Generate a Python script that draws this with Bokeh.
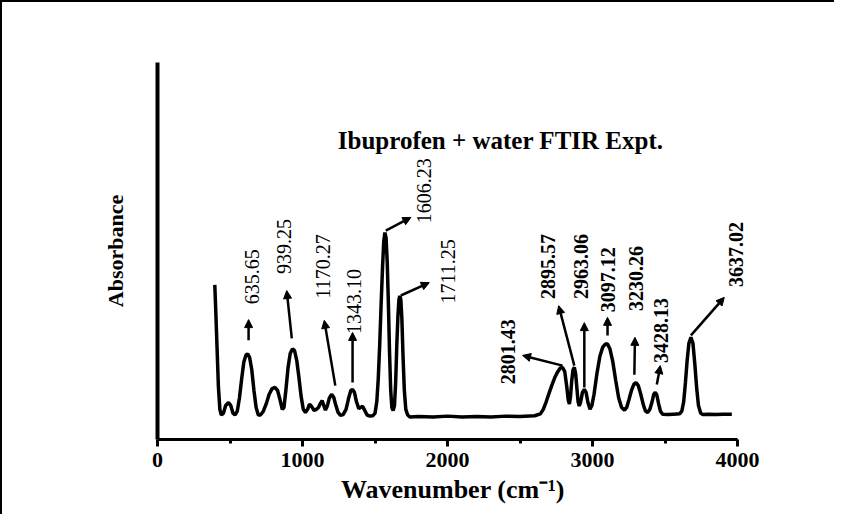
from bokeh.plotting import figure
from bokeh.models import Range1d, FixedTicker, Arrow, NormalHead, ColumnDataSource, Label
from bokeh.embed import file_html
from bokeh.resources import INLINE
import math

# Spectrum (wavenumber, absorbance in arbitrary units)
wavenumber = [395, 400, 410, 420, 430, 440, 455, 470, 490, 505, 520, 535, 550, 565, 580, 595, 610, 622, 635, 650,
              665, 680, 695, 710, 730, 750, 770, 790, 810, 828, 845, 860, 872, 885, 900, 915, 930, 945, 960, 975,
              990, 1005, 1020, 1035, 1048, 1062, 1080, 1095, 1110, 1122, 1135, 1147, 1158, 1170, 1185, 1200, 1215,
              1230, 1245, 1262, 1280, 1300, 1318, 1333, 1345, 1358, 1372, 1388, 1400, 1414, 1428, 1445, 1465, 1485,
              1500, 1512, 1522, 1532, 1542, 1552, 1560, 1568, 1576, 1584, 1592, 1600, 1608, 1616, 1625, 1634, 1642,
              1650, 1658, 1665, 1671, 1678, 1685, 1693, 1702, 1712, 1725, 1740, 1800, 1900, 2000, 2100, 2200, 2300,
              2400, 2500, 2600, 2640, 2660, 2680, 2700, 2720, 2740, 2760, 2778, 2793, 2808, 2822, 2832, 2840, 2848,
              2856, 2865, 2874, 2883, 2892, 2900, 2908, 2918, 2930, 2943, 2955, 2968, 2982, 2995, 3010, 3030, 3050,
              3070, 3088, 3103, 3120, 3140, 3160, 3180, 3200, 3220, 3235, 3250, 3268, 3285, 3299, 3315, 3332, 3350,
              3365, 3380, 3395, 3410, 3422, 3432, 3443, 3455, 3468, 3483, 3520, 3560, 3600, 3615, 3628, 3640, 3652,
              3664, 3678, 3692, 3705, 3718, 3730, 3745, 3760, 3800, 3850, 3900, 3960]
absorbance = [0.41, 0.36, 0.25, 0.14, 0.08, 0.065, 0.07, 0.09, 0.098, 0.09, 0.07, 0.065, 0.075, 0.11, 0.16, 0.205,
              0.224, 0.227, 0.218, 0.185, 0.13, 0.085, 0.065, 0.065, 0.075, 0.095, 0.12, 0.135, 0.138, 0.13, 0.105,
              0.08, 0.085, 0.13, 0.19, 0.228, 0.24, 0.236, 0.21, 0.165, 0.115, 0.08, 0.072, 0.08, 0.094, 0.088, 0.077,
              0.08, 0.085, 0.095, 0.103, 0.09, 0.078, 0.088, 0.11, 0.12, 0.112, 0.09, 0.072, 0.064, 0.066, 0.08, 0.11,
              0.13, 0.133, 0.125, 0.1, 0.082, 0.085, 0.088, 0.078, 0.065, 0.062, 0.063, 0.07, 0.1, 0.16, 0.25, 0.36,
              0.46, 0.525, 0.549, 0.535, 0.47, 0.36, 0.23, 0.13, 0.085, 0.077, 0.09, 0.15, 0.25, 0.33, 0.372, 0.381,
              0.37, 0.32, 0.22, 0.13, 0.08, 0.065, 0.06, 0.061, 0.06, 0.062, 0.06, 0.061, 0.06, 0.062, 0.061, 0.063,
              0.068, 0.08, 0.1, 0.123, 0.145, 0.165, 0.18, 0.19, 0.191, 0.18, 0.14, 0.105, 0.094, 0.115, 0.155, 0.185,
              0.191, 0.175, 0.135, 0.1, 0.089, 0.1, 0.125, 0.133, 0.125, 0.098, 0.08, 0.09, 0.12, 0.175, 0.22, 0.245,
              0.253, 0.253, 0.24, 0.205, 0.155, 0.11, 0.085, 0.078, 0.085, 0.105, 0.13, 0.147, 0.151, 0.143, 0.12,
              0.092, 0.075, 0.072, 0.08, 0.1, 0.12, 0.125, 0.118, 0.095, 0.075, 0.067, 0.066, 0.067, 0.068, 0.075,
              0.1, 0.15, 0.21, 0.255, 0.271, 0.255, 0.2, 0.135, 0.09, 0.07, 0.066, 0.067, 0.066, 0.067, 0.067]

# Peak annotations
peak_labels = ["635.65", "939.25", "1170.27", "1343.10", "1606.23", "1711.25", "2801.43", "2895.57",
               "2963.06", "3097.12", "3230.26", "3428.13", "3637.02"]
label_x = [655, 874, 1138, 1357, 1839, 2000, 2414, 2690, 2919, 3103, 3299, 3471, 3988]
label_y = [0.432, 0.512, 0.459, 0.366, 0.660, 0.446, 0.233, 0.459, 0.459, 0.424, 0.427, 0.289, 0.491]
label_bold = [False, False, False, False, False, False, True, True, True, True, True, True, True]
arrow_x0 = [628, 926, 1226, 1345, 1574, 1678, 2793, 2874, 2943, 3103, 3288, 3443, 3678]
arrow_y0 = [0.263, 0.268, 0.143, 0.151, 0.554, 0.382, 0.196, 0.196, 0.138, 0.276, 0.172, 0.146, 0.276]
arrow_x1 = [628, 891, 1150, 1345, 1747, 1874, 2517, 2766, 2943, 3103, 3292, 3467, 3908]
arrow_y1 = [0.318, 0.395, 0.316, 0.284, 0.589, 0.416, 0.223, 0.355, 0.310, 0.324, 0.271, 0.196, 0.377]

x_ticks = [0, 1000, 2000, 3000, 4000]
x_minor = [500, 1500, 2500, 3500]

FONT = "Liberation Serif"

p = figure(width=834, height=514, output_backend="svg", toolbar_location=None,
           x_range=Range1d(0, 4075), y_range=Range1d(0, 1),
           min_border_left=155, min_border_right=88, min_border_top=60, min_border_bottom=77)
p.styles = {"border-top": "2px solid black", "border-left": "2px solid black"}
p.outline_line_color = None
p.xgrid.visible = False
p.ygrid.visible = False

p.line(wavenumber, absorbance, line_color="black", line_width=3.5)

src = ColumnDataSource(dict(x0=arrow_x0, y0=arrow_y0, x1=arrow_x1, y1=arrow_y1))
p.add_layout(Arrow(x_start="x0", y_start="y0", x_end="x1", y_end="y1", source=src,
                   line_width=2.5, line_color="black",
                   end=NormalHead(size=8, fill_color="black", line_color="black", line_width=1)))

for lx, ly, lt, lb in zip(label_x, label_y, peak_labels, label_bold):
    p.add_layout(Label(x=lx, y=ly, text=lt, angle=math.pi / 2,
                       text_align="center", text_baseline="middle",
                       text_font=FONT, text_font_size="20px",
                       text_font_style="bold" if lb else "normal", text_color="black"))

p.add_layout(Label(x=2366, y=0.793, text="Ibuprofen + water FTIR Expt.", text_align="center",
                   text_baseline="middle", text_font=FONT, text_font_size="25px",
                   text_font_style="bold", text_color="black"))

xa = p.xaxis[0]
xa.bounds = (0, 4000)
xa.ticker = FixedTicker(ticks=x_ticks, minor_ticks=x_minor)
xa.axis_line_width = 3
xa.axis_line_color = "black"
xa.major_tick_line_width = 3
xa.minor_tick_line_width = 3
xa.major_tick_line_color = "black"
xa.minor_tick_line_color = "black"
xa.major_tick_in = 0
xa.major_tick_out = 7
xa.minor_tick_in = 0
xa.minor_tick_out = 4
xa.major_label_text_font = FONT
xa.major_label_text_font_style = "bold"
xa.major_label_text_font_size = "22px"
xa.major_label_text_color = "black"
xa.major_label_standoff = 6
xa.axis_label = "Wavenumber (cm\u207b\u00b9)"
xa.axis_label_text_font = FONT
xa.axis_label_text_font_style = "bold"
xa.axis_label_text_font_size = "26px"
xa.axis_label_text_color = "black"
xa.axis_label_standoff = 5

ya = p.yaxis[0]
ya.ticker = FixedTicker(ticks=[])
ya.axis_line_width = 4
ya.axis_line_color = "black"
ya.major_tick_line_color = None
ya.minor_tick_line_color = None
ya.major_label_text_font_size = "0px"
ya.axis_label = "Absorbance"
ya.axis_label_text_font = FONT
ya.axis_label_text_font_style = "bold"
ya.axis_label_text_font_size = "22px"
ya.axis_label_text_color = "black"
ya.axis_label_standoff = 30

open("out.html", "w").write(file_html(p, INLINE))
